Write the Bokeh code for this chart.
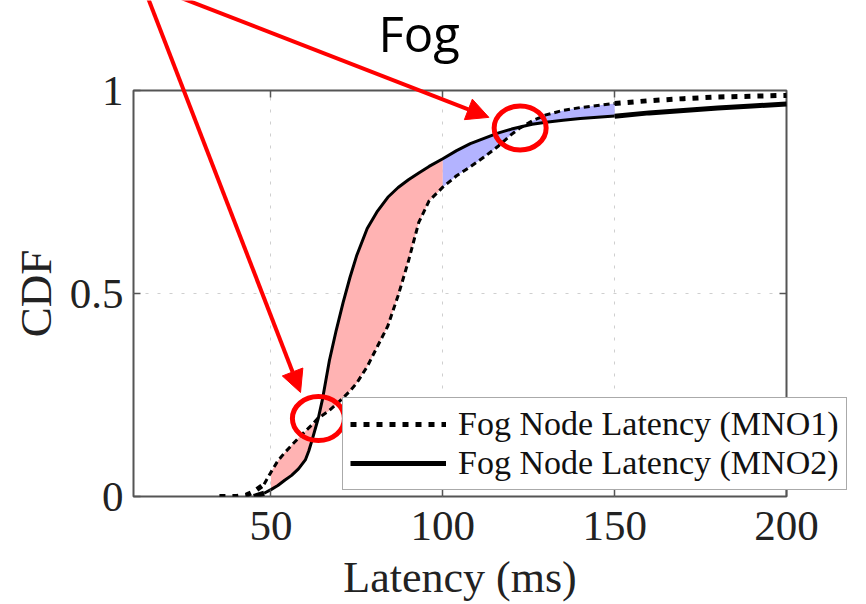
import numpy as np
from bokeh.plotting import figure
from bokeh.models import (Range1d, FixedTicker, LinearAxis, Legend, LegendItem,
                          Label, Arrow, NormalHead)
from bokeh.embed import file_html
from bokeh.resources import INLINE

# ---------------- data ----------------
LATENCY = [35, 40, 43, 45, 48, 50, 52, 54, 56, 58, 60, 61, 62, 63.8, 65, 67, 69, 71,
           73, 75, 78, 81, 84, 87, 90, 93, 96, 100, 104, 108, 112, 116, 120, 122.5,
           126, 130, 135, 140, 145, 150, 160, 170, 180, 190, 200]
MNO1_CDF = [0, 0, 0.004, 0.012, 0.03, 0.06, 0.088, 0.108, 0.126, 0.144, 0.161, 0.169,
            0.177, 0.194, 0.2, 0.212, 0.227, 0.243, 0.26, 0.28, 0.32, 0.37, 0.42,
            0.495, 0.58, 0.675, 0.728, 0.762, 0.79, 0.812, 0.836, 0.862, 0.892,
            0.908, 0.925, 0.94, 0.951, 0.958, 0.963, 0.968, 0.975, 0.98, 0.984,
            0.986, 0.988]
MNO2_CDF = [np.nan, np.nan, np.nan, 0, 0.008, 0.017, 0.027, 0.04, 0.052, 0.068, 0.09,
            0.112, 0.14, 0.194, 0.24, 0.335, 0.41, 0.478, 0.54, 0.595, 0.66, 0.703,
            0.737, 0.761, 0.78, 0.797, 0.813, 0.832, 0.852, 0.869, 0.882, 0.895,
            0.905, 0.91, 0.917, 0.922, 0.927, 0.931, 0.934, 0.937, 0.945, 0.951,
            0.957, 0.962, 0.967]
SERIES_LABELS = ["Fog Node Latency (MNO1)", "Fog Node Latency (MNO2)"]
X_TICKS = [50, 100, 150, 200]
Y_TICKS = [0, 0.5, 1]
Y_TICK_LABELS = ["0", "0.5", "1"]
RED_SPAN = (50, 100)     # latency interval shaded red
BLUE_SPAN = (100, 150)   # latency interval shaded blue
CROSSINGS = [63.8, 122.5]  # latencies where the two CDFs cross
TITLE = "Fog"
# arrow annotations: (start latency, start cdf, end latency, end cdf)
ARROWS = [(14.1, 1.23, 58.6, 0.258), (23.1, 1.23, 113.4, 0.934)]

x = np.array(LATENCY, dtype=float)
y1 = np.array(MNO1_CDF, dtype=float)
y2 = np.array(MNO2_CDF, dtype=float)

SERIF = "Liberation Serif"
W, H = 866, 604
BL, BR, BT, BB = 133, 80, 90, 107   # borders around the plot frame
X0, X1, Y0, Y1 = 10, 200, 0, 1

p = figure(width=W, height=H, output_backend="svg", toolbar_location=None,
           x_range=Range1d(X0, X1), y_range=Range1d(Y0, Y1),
           min_border_left=BL, min_border_right=BR, min_border_top=BT,
           min_border_bottom=BB)
p.styles = {"position": "absolute", "left": "0px", "top": "0px"}
p.background_fill_color = "white"
p.border_fill_color = "white"
p.outline_line_color = "#555555"
p.outline_line_width = 2

# grid
p.xgrid.ticker = FixedTicker(ticks=[50, 100, 150])
p.ygrid.ticker = FixedTicker(ticks=[0.5])
for g in (p.xgrid, p.ygrid):
    g.grid_line_color = "#cfcfcf"
    g.grid_line_width = 1
    g.grid_line_dash = "3 9"

# fills
m_red = (x >= RED_SPAN[0]) & (x <= RED_SPAN[1])
m_blue = (x >= BLUE_SPAN[0]) & (x <= BLUE_SPAN[1])
p.varea(x=x[m_red], y1=y1[m_red], y2=y2[m_red], fill_color="#ffb3b3", fill_alpha=1)
p.varea(x=x[m_blue], y1=y1[m_blue], y2=y2[m_blue], fill_color="#b3b3ff", fill_alpha=1)

# lines: thin middle part, heavier ends
mid = (x >= 48) & (x <= 150)
low = x <= 48
high = x >= 150
DOT_THIN = dict(line_color="black", line_width=3, line_dash="6 4")
SOLID_THIN = dict(line_color="black", line_width=3)
DOT_THICK = dict(line_color="black", line_width=5, line_dash="6 7")
SOLID_THICK = dict(line_color="black", line_width=5)
p.line(x[mid], y1[mid], **DOT_THIN)
p.line(x[mid], y2[mid], **SOLID_THIN)
p.line(x[low], y1[low], **DOT_THICK)
p.line(x[low], y2[low], **SOLID_THICK)

# axes
def style_axis(ax, show_labels=True):
    ax.axis_line_color = None
    ax.major_tick_in = 7
    ax.major_tick_out = 0
    ax.minor_tick_line_color = None
    ax.major_tick_line_color = "#555555"
    ax.major_tick_line_width = 1.5
    ax.major_label_text_font = SERIF
    if show_labels:
        ax.major_label_text_color = "#222222"
        ax.major_label_text_font_size = "43px"
    else:
        ax.major_label_text_color = None
        ax.major_label_text_font_size = "1px"
        ax.major_label_standoff = 0

xa = p.xaxis[0]
style_axis(xa)
xa.ticker = FixedTicker(ticks=X_TICKS)
xa.major_label_standoff = 15
xa.axis_label = "Latency (ms)"
xa.axis_label_text_font = SERIF
xa.axis_label_text_font_size = "44px"
xa.axis_label_text_font_style = "normal"
xa.axis_label_text_color = "#222222"
xa.axis_label_standoff = 10

ya = p.yaxis[0]
style_axis(ya)
ya.ticker = FixedTicker(ticks=Y_TICKS)
ya.major_label_overrides = {t: s for t, s in zip(Y_TICKS, Y_TICK_LABELS)}
ya.major_label_standoff = 10
ya.axis_label = "CDF"
ya.axis_label_text_font = SERIF
ya.axis_label_text_font_size = "45px"
ya.axis_label_text_font_style = "normal"
ya.axis_label_text_color = "#222222"
ya.axis_label_standoff = 6

top = LinearAxis(ticker=FixedTicker(ticks=[50, 100, 150]))
style_axis(top, show_labels=False)
p.add_layout(top, "above")
right = LinearAxis(ticker=FixedTicker(ticks=[0.5]))
style_axis(right, show_labels=False)
p.add_layout(right, "right")

# ---------- transparent overlay spanning the whole canvas (same data mapping) ----------
sx = (X1 - X0) / (W - BL - BR)
sy = (Y1 - Y0) / (H - BT - BB)
q = figure(width=W, height=H, output_backend="svg", toolbar_location=None,
           x_range=Range1d(X0 - BL * sx, X1 + BR * sx),
           y_range=Range1d(Y0 - BB * sy, Y1 + BT * sy),
           x_axis_type=None, y_axis_type=None, min_border=0)
q.styles = {"position": "absolute", "left": "0px", "top": "0px"}
q.background_fill_alpha = 0
q.border_fill_alpha = 0
q.outline_line_color = None
q.grid.visible = False

# heavy tail segments (also carry the legend styles)
r1 = q.line(x[high], y1[high], **DOT_THICK)
r2 = q.line(x[high], y2[high], **SOLID_THICK)

# red circles at crossings
cx = np.array(CROSSINGS)
cy = np.interp(cx, x, y1)
q.ellipse(x=cx, y=cy, width=52, height=44, width_units="screen", height_units="screen",
          fill_color=None, line_color="red", line_width=5)

# arrows
for xs, ys, xe, ye in ARROWS:
    q.add_layout(Arrow(end=NormalHead(size=22, fill_color="red", line_color="red", line_width=1),
                       x_start=xs, y_start=ys, x_end=xe, y_end=ye,
                       line_color="red", line_width=4))

# title text
q.add_layout(Label(x=93.1, y=1.142, text=TITLE, text_font="Open Sans",
                   text_font_size="49px", text_align="center",
                   text_baseline="alphabetic", text_color="black"))

# legend
legend = Legend(items=[LegendItem(label=SERIES_LABELS[0], renderers=[r1]),
                       LegendItem(label=SERIES_LABELS[1], renderers=[r2])],
                location=(342, 114))
legend.label_text_font = SERIF
legend.label_text_font_size = "34px"
legend.label_text_color = "#111111"
legend.glyph_width = 96
legend.glyph_height = 36
legend.label_height = 36
legend.label_standoff = 12
legend.spacing = 1
legend.padding = 7
legend.margin = 0
legend.border_line_color = "#555555"
legend.border_line_width = 1.5
legend.background_fill_color = "white"
legend.background_fill_alpha = 1
q.add_layout(legend)

open("out.html", "w").write(file_html([p, q], INLINE))
